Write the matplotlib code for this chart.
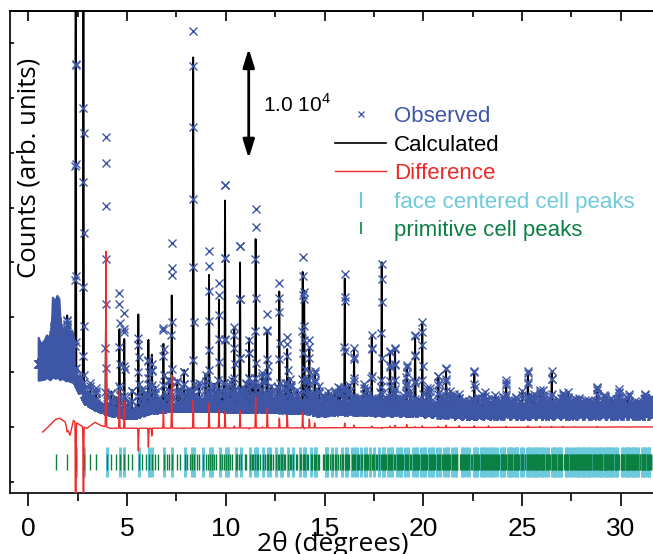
import numpy as np
import matplotlib.pyplot as plt
from matplotlib import font_manager
from matplotlib.lines import Line2D

# ---- values (2theta in degrees, counts) ----

# 2theta of the first (100) reflection of the cubic cell
first_reflection = 1.40

# observed background
bg_2theta = [0.5, 1.0, 1.5, 2.0, 2.3, 2.6, 3.0, 3.5, 4.0, 4.5, 5.2, 6.0, 7.0,
             9.0, 12.0, 14.0, 14.9, 15.5, 17.0, 20.0, 22.0, 26.0, 31.7]
bg_counts = [5700, 5700, 5500, 5300, 4990, 3800, 2440, 1890, 1520, 1250, 1070,
             1520, 1710, 1710, 1620, 1520, 1250, 1430, 1340, 1250, 980, 980, 980]

# observed minus calculated background at low angle
dbg_2theta = [0.5, 0.73, 1.10, 1.35, 1.60, 1.86, 2.11, 2.28, 2.62, 2.97,
              3.38, 3.63, 4.14, 31.7]
dbg_counts = [-500, -460, 160, 610, 770, 460, -760, 610, 160, -120,
              430, 160, -120, 0]

# spread of the observed points at low angle (top and bottom of the band)
scatter_2theta = [0.50, 0.62, 0.80, 0.92, 1.00, 1.10, 1.17, 1.22, 1.35, 1.45,
                  1.55, 1.60, 1.66, 1.80, 1.90, 2.00, 2.10, 2.20, 2.32]
scatter_top = [8170, 7600, 7910, 8400, 8170, 8500, 9300, 11830, 11500, 12000,
               11700, 10000, 9280, 8820, 9200, 9550, 8600, 8820, 7900]
scatter_bottom = [4260, 4300, 4350, 4500, 4440, 4300, 4440, 4600, 4440, 4500,
                  4440, 4300, 4440, 4350, 4200, 4260, 4150, 4100, 3990]

# typical height of the weak reflections
weak_2theta = [1.0, 4.0, 10.0, 15.0, 20.0, 31.7]
weak_counts = [700, 1100, 1300, 1100, 900, 750]

# strong peaks: position, top of calculated curve, highest observed point
peak_2theta = [1.40, 1.96, 2.40, 2.79, 3.93, 4.61, 4.86, 5.57, 6.08, 6.25,
               6.84, 7.26, 7.88, 8.35, 9.15, 9.65, 9.96, 10.43, 10.72, 11.18,
               11.51, 11.85, 12.10, 12.71, 13.11, 13.89, 13.97, 14.23, 14.50,
               16.02, 16.49, 17.39, 17.89, 18.31, 18.57, 19.16, 19.58, 19.95,
               20.76, 21.15, 21.82, 22.58, 23.30, 24.20, 25.30, 25.90, 26.50,
               27.06, 27.68, 28.81, 29.93, 31.20]
peak_calc = [9000, 9710, 60000, 42000, 10480, 8990, 7730, 10370, 8090, 6090,
             7640, 11740, 5360, 34100, 14020, 11740, 21600, 9100, 15670, 8090,
             17310, 4990, 8550, 11560, 7180, 12290, 11560, 7270, 4530,
             12930, 6270, 6720, 13840, 6720, 7000, 5170, 7270, 8090,
             4530, 5000, 2890, 3800, 1800, 3700, 3900, 3150, 4900,
             3000, 2600, 3450, 2600, 2150]
peak_obs = [9700, 9280, 34430, 29130, 26690, 12370, 10090, 8180, 6170, 5260,
            9180, 16480, 5200, 36560, 16210, 13290, 23050, 9180, 17280, 7900,
            20130, 5000, 10280, 12370, 8270, 13650, 11400, 8000, 4900,
            13290, 6450, 6800, 13700, 6800, 7150, 5400, 7300, 8200,
            4600, 5150, 3000, 3900, 1900, 3750, 4000, 3200, 4950,
            3050, 2620, 3500, 2620, 2180]

obs_blue = '#3d56a6'
diff_red = '#ee2a2a'
fcc_cyan = '#6ccadc'
prim_green = '#0b8043'

names = {f.name for f in font_manager.fontManager.ttflist}
if 'Liberation Sans Narrow' in names:
    tick_font, tick_size = 'Liberation Sans Narrow', 20
else:
    tick_font, tick_size = 'Liberation Sans', 19
plt.rcParams['mathtext.fontset'] = 'custom'
plt.rcParams['mathtext.rm'] = 'Liberation Sans'


def gauss_sum(x, centers, heights, fwhm):
    c = np.asarray(centers, float)[None, :]
    h = np.asarray(heights, float)[None, :]
    w = np.asarray(fwhm, float)[None, :]
    return (h * np.exp(-4 * np.log(2) * (x[:, None] - c) ** 2 / w ** 2)).sum(axis=1)


# reflections of the cubic cell, primitive and face centered
idx = np.arange(-23, 24)
h, k, l = np.meshgrid(idx, idx, idx, indexing='ij')
n_all = (h ** 2 + k ** 2 + l ** 2).ravel()
fcc = ((h % 2 == k % 2) & (k % 2 == l % 2)).ravel()
mult = np.bincount(n_all)
s1 = np.sin(np.radians(first_reflection / 2))
smax = np.sin(np.radians(31.7 / 2))
n_prim = np.nonzero(mult)[0][1:]
n_prim = n_prim[np.sqrt(n_prim) * s1 < smax]
n_fcc = np.unique(n_all[fcc & (n_all > 0)])
n_fcc = n_fcc[np.sqrt(n_fcc) * s1 < smax]


def two_theta(n):
    return 2 * np.degrees(np.arcsin(np.sqrt(n) * s1))


tth_prim = two_theta(n_prim)
tth_fcc = two_theta(n_fcc)
weak_h = np.interp(tth_prim, weak_2theta, weak_counts) * mult[n_prim] / (2 * np.pi * np.sqrt(n_prim))

x = np.arange(0.5, 31.7, 0.008)
bg_obs = np.interp(x, bg_2theta, bg_counts)
bg_calc = bg_obs - np.interp(x, dbg_2theta, dbg_counts)

pk = np.array(peak_2theta)
widths = np.full(len(pk), 0.03)
widths[0] = 0.35
widths[1] = 0.06
h_obs = np.array(peak_obs) - np.interp(pk, bg_2theta, bg_counts)
h_calc = np.array(peak_calc) - (np.interp(pk, bg_2theta, bg_counts) - np.interp(pk, dbg_2theta, dbg_counts))

weak = gauss_sum(x, tth_prim, weak_h, np.full(len(tth_prim), 0.026))
obs = bg_obs + weak + gauss_sum(x, pk, h_obs, widths)
calc = bg_calc + weak + gauss_sum(x, pk, h_calc, widths)
diff = obs - calc

fig = plt.figure(figsize=(6.53, 5.54), dpi=100)
ax = fig.add_axes([10 / 653, 61 / 554, 643 / 653, 482 / 554])

ax.vlines(tth_fcc, -4560, -1830, color=fcc_cyan, lw=2.2, zorder=1)
ax.vlines(tth_prim, -3890, -2490, color=prim_green, lw=1.0, zorder=1.5)
ax.plot(x, calc, color='k', lw=1.3, zorder=2)
sx = np.array(scatter_2theta)
ax.fill_between(sx, scatter_bottom, scatter_top, color=obs_blue, lw=1.5,
                edgecolor=obs_blue, zorder=3)
ax.plot(x, obs, ls='none', marker='x', ms=6, mew=1.0, color=obs_blue, zorder=3)
low = x >= 0.72
ax.plot(x[low], diff[low], color=diff_red, lw=1.0, zorder=4)

ax.set_xlim(-0.927, 31.63)
ax.set_ylim(-6020, 37930)
ax.set_xticks(range(0, 31, 5))
ax.set_xticks(np.arange(2.5, 31, 5), minor=True)
ax.set_yticks(np.arange(-5000, 35001, 5000))
ax.tick_params(axis='x', which='major', direction='out', length=9.5, width=1.2, pad=8,
               labelsize=tick_size, top=False)
ax.tick_params(axis='x', which='minor', direction='out', length=5.5, width=1.2, top=False)
ax.tick_params(axis='y', direction='in', length=3, width=1.2, labelleft=False)
for lab in ax.get_xticklabels():
    lab.set_family(tick_font)
ax.spines['right'].set_visible(False)
for s in ('left', 'top', 'bottom'):
    ax.spines[s].set_linewidth(1.2)

top = ax.secondary_xaxis('top')
top.set_xticks(range(0, 31, 5))
top.set_xticks(np.arange(2.5, 31, 5), minor=True)
top.tick_params(which='major', direction='in', length=7, width=1.2, labeltop=False)
top.tick_params(which='minor', direction='in', length=4.5, width=1.2)
top.spines['top'].set_linewidth(1.2)

ax.annotate('', xy=(11.16, 24500), xytext=(11.16, 34500),
            arrowprops=dict(arrowstyle='<|-|>,head_length=0.8,head_width=0.25',
                            color='k', lw=2, mutation_scale=14, shrinkA=0, shrinkB=0))
ax.text(11.88, 28700, '1.0 10$^4$', fontsize=15, family='Liberation Sans', va='baseline')

ax.text(0.0303, 0.675, 'Counts (arb. units)', rotation=90, ha='center', va='center',
        fontsize=18.5, family='Open Sans', transform=ax.transAxes)
fig.text(333 / 653, 3 / 554, '2\u03b8 (degrees)', ha='center', va='baseline',
         fontsize=19, family='Open Sans')

handles = [Line2D([], [], ls='none', marker='x', color=obs_blue, ms=5, mew=0.9),
           Line2D([], [], color='k', lw=1.2),
           Line2D([], [], color=diff_red, lw=1.0),
           Line2D([], [], ls='none', marker='|', color=fcc_cyan, ms=11, mew=1.6),
           Line2D([], [], ls='none', marker='|', color=prim_green, ms=9, mew=1.2)]
labels = ['Observed', 'Calculated', 'Difference', 'face centered cell peaks', 'primitive cell peaks']
ax.legend(handles, labels, loc='upper left', bbox_to_anchor=(335 / 653, 1 - 106 / 554),
          bbox_transform=fig.transFigure, frameon=False, borderpad=0, borderaxespad=0,
          handlelength=2.3, handletextpad=0.35, labelspacing=0.34,
          labelcolor=[obs_blue, 'k', diff_red, fcc_cyan, prim_green],
          prop={'family': 'Liberation Sans', 'size': 16})

fig.savefig('out.png', dpi=100)
